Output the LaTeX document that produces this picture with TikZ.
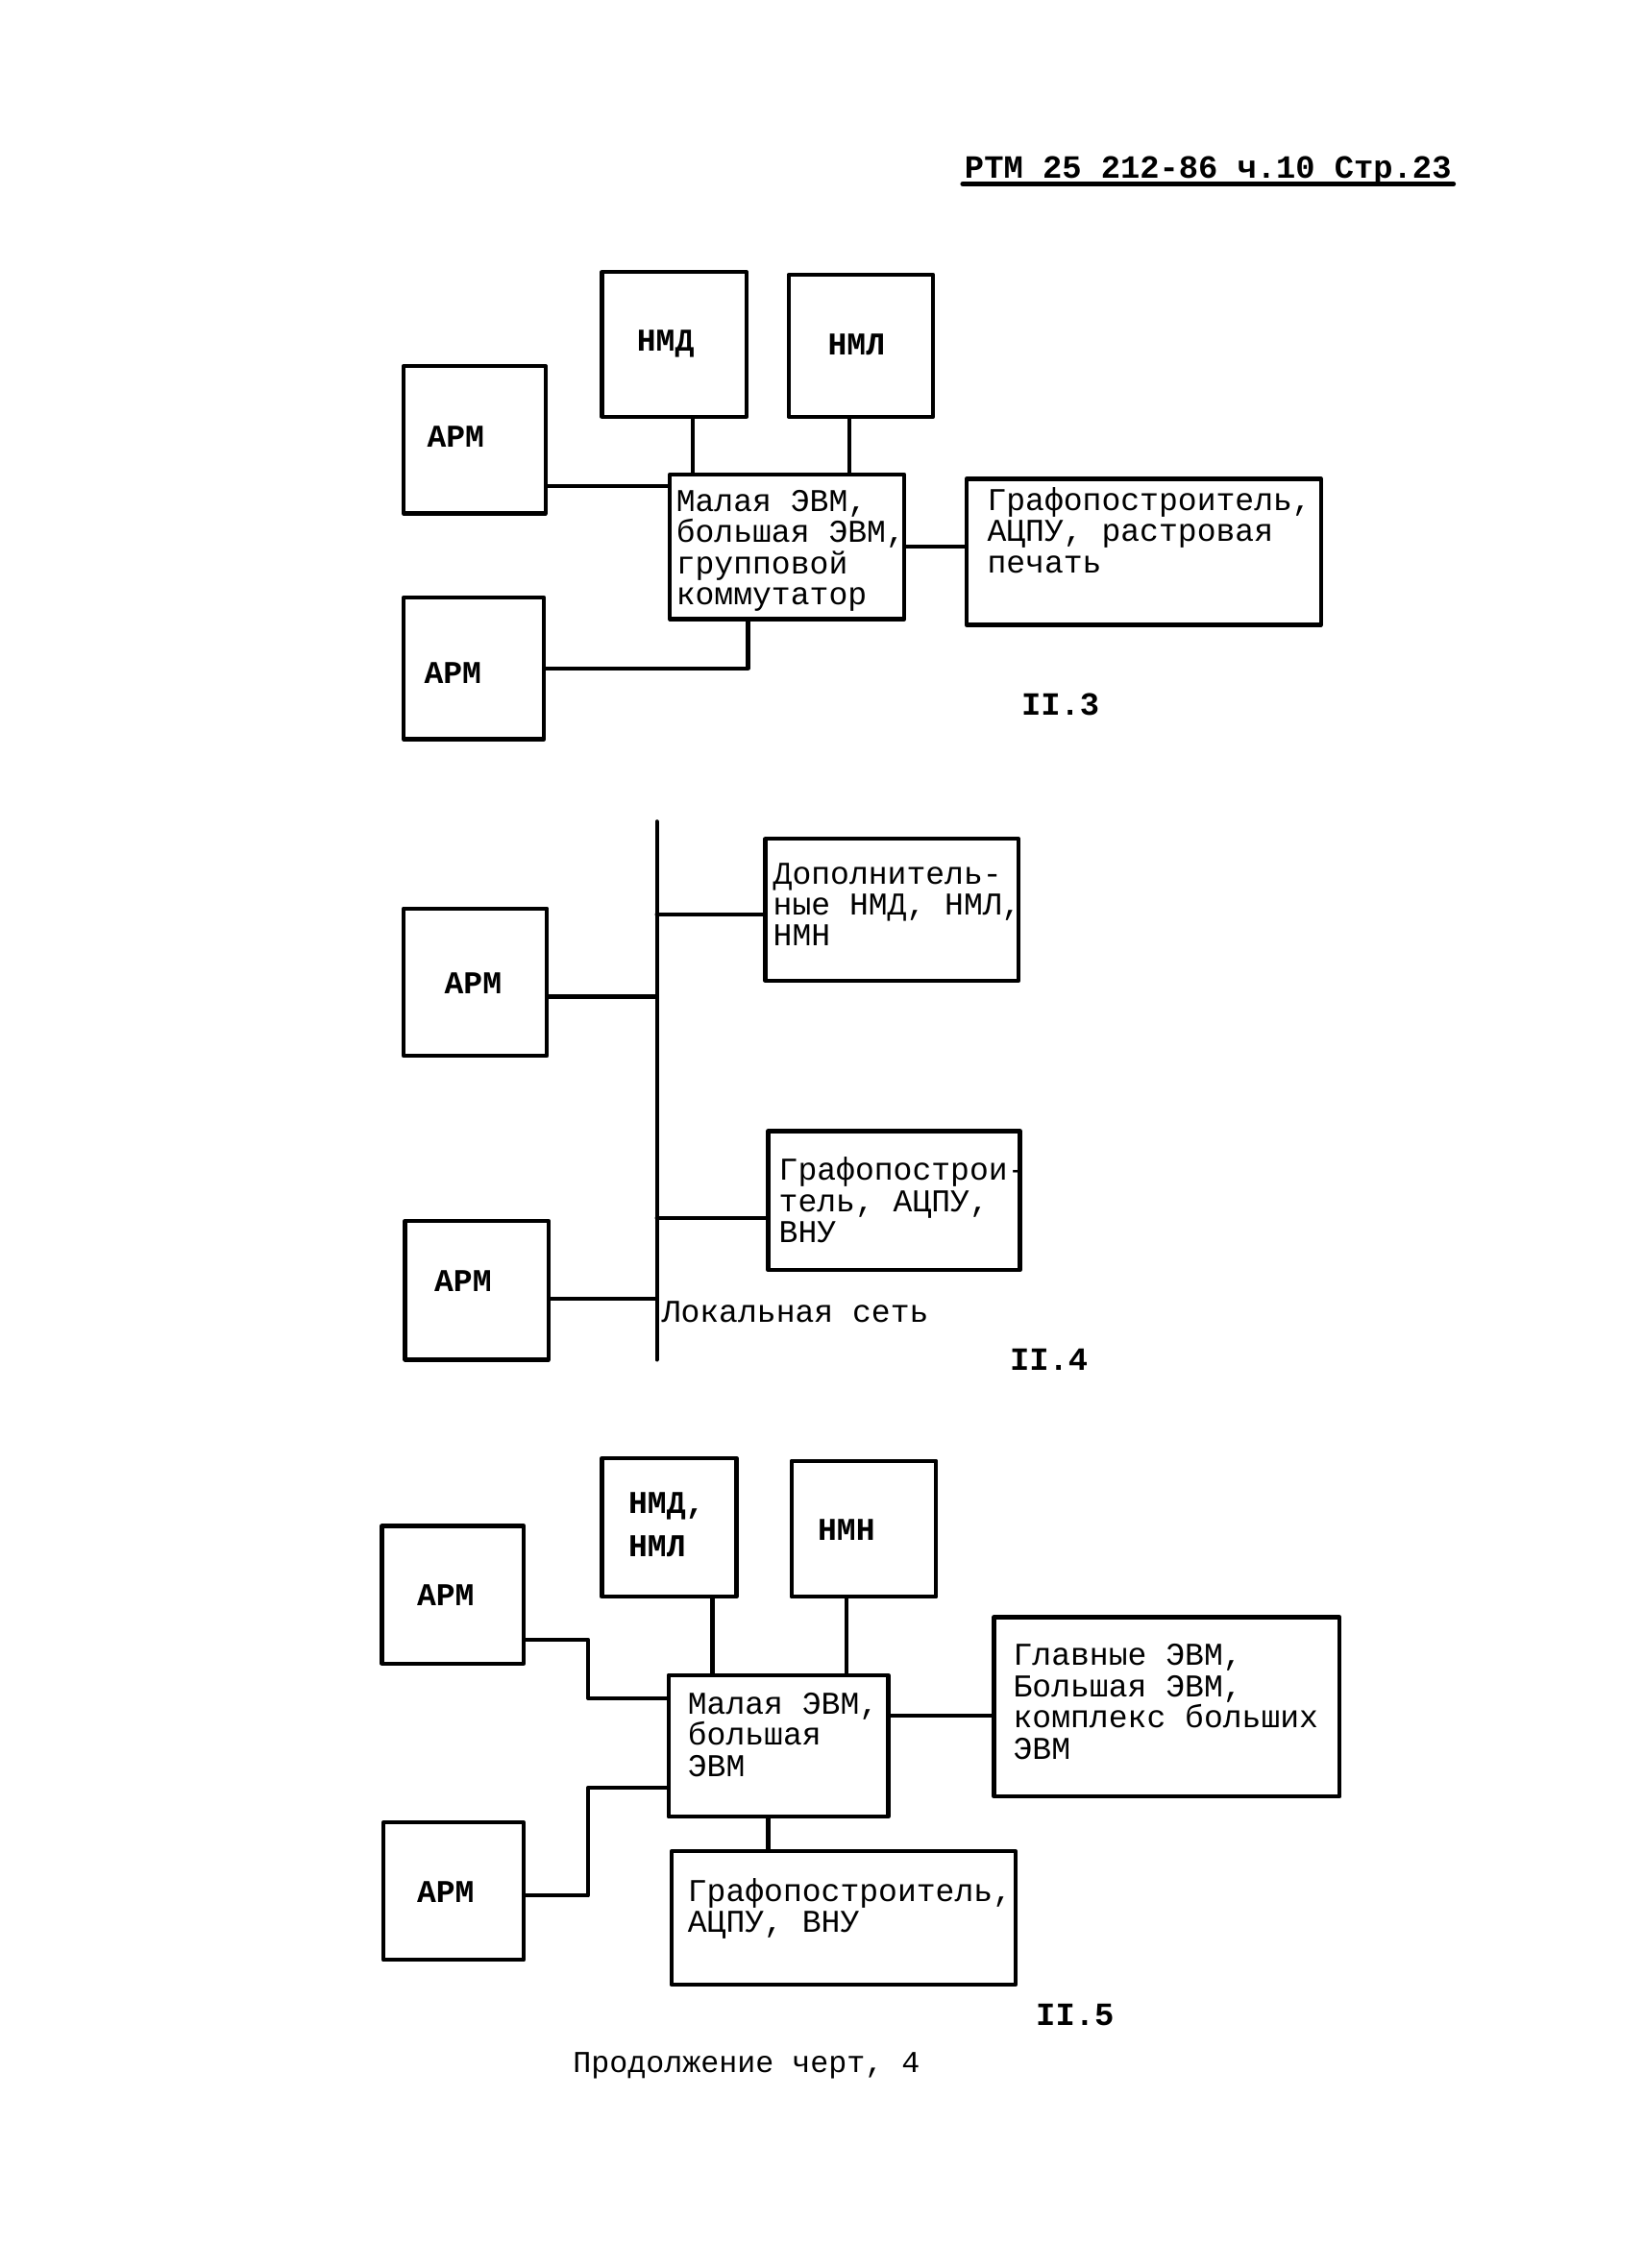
\documentclass[tikz,border=0pt]{standalone}
\usepackage{fontspec}
\setmainfont{Liberation Mono}
\usetikzlibrary{calc,positioning}

\begin{document}
\begin{tikzpicture}[line join=round, line cap=round, x=0.01505cm, y=-0.01505cm,
 font=\fontsize{9.4pt}{9.2pt}\selectfont, line width=1.2pt,
 box/.style={draw, line width=1.2pt, inner sep=0pt},
 wh/.style 2 args={minimum width=#1*\u, minimum height=#2*\u},
 txt/.style={inner sep=0pt, align=left, anchor=base west},
 lbl/.style={inner sep=0pt, font=\fontsize{9.4pt}{9.2pt}\selectfont\bfseries},
 num/.style={inner sep=0pt, font=\fontsize{9.6pt}{10pt}\selectfont\bfseries}]
 \def\u{0.01505cm}
 \useasboundingbox (0,0) rectangle (1136,1568);
 % Header
 \node[num, anchor=base] (hdr) at (835,123) {РТМ 25 212-86 ч.10 Стр.23};
 \draw[line width=1.4pt] ([yshift=-1.8pt]hdr.base west) coordinate (ul) -- (ul -| hdr.east);

 % II.3
 \node[box, wh={98}{102}] (apmA) at (328,304) {};
 \node[box, wh={97}{98}] (apmB) at (327.5,462) {};
 \node[box, wh={100}{100}] (nmdA) at (466,238) {};
 \node[box, wh={100}{98}] (nmlA) at (595,239) {};
 \node[box, wh={162}{100}] (mainA) at (544,378) {};
 \node[box, wh={245}{101}] (grA) at (790.5,381.5) {};
 \node[lbl] (apmAt) at (315,302) {АРМ};
 \node[lbl] (apmBt) at (313,465) {АРМ};
 \node[lbl] (nmdAt) at (460,238) {НМД};
 \node[lbl] (nmlAt) at (592,238) {НМЛ};
 \node[txt] (mainAt) at (466,418) {Малая ЭВМ,\\большая ЭВМ,\\групповой\\коммутатор};
 \node[txt] (grAt) at (681,396) {Графопостроитель,\\АЦПУ, растровая\\печать};
 \draw ([xshift=13*\u]nmdA.south) coordinate (p1) -- (p1 |- mainA.north);
 \draw ([xshift=-8*\u]nmlA.south) coordinate (p2) -- (p2 |- mainA.north);
 \draw ([yshift=-32*\u]apmA.east) coordinate (p3) -- (p3 -| mainA.west);
 \draw (apmB.east) -| ([xshift=-27*\u]mainA.south);
 \draw (mainA.east) -- (mainA.east -| grA.west);
 \node[num] (n3) at (733,487) {II.3};

 % II.4
 \coordinate (busT) at (454,568);
 \coordinate (busB) at (454,940);
 \draw (busT) -- (busB);
 \node[box, wh={99}{102}] (apmC) at (328.5,679) {};
 \node[box, wh={99}{96}] (apmD) at (329.5,892) {};
 \node[box, wh={175}{98}] (dop) at (616.5,629) {};
 \node[box, wh={174}{96}] (grB) at (618,830) {};
 \node[lbl] (apmCt) at (327,680) {АРМ};
 \node[lbl] (apmDt) at (320,886) {АРМ};
 \node[txt] (dopt) at (533,654) {Дополнитель-\\ные НМД, НМЛ,\\НМН};
 \node[txt] (grBt) at (537,859) {Графопострои-\\тель, АЦПУ,\\ВНУ};
 \node[txt] (net) at (456,914) {Локальная сеть};
 \draw ([yshift=-10*\u]apmC.east) coordinate (q1) -- (q1 -| busT);
 \draw ([yshift=-3*\u]dop.west) coordinate (q2) -- (q2 -| busT);
 \draw ([yshift=-12*\u]grB.west) coordinate (q3) -- (q3 -| busT);
 \draw ([yshift=-6*\u]apmD.east) coordinate (q4) -- (q4 -| busT);
 \node[num] (n4) at (725,940) {II.4};

 % II.5
 \node[box, wh={93}{96}] (nmdC) at (462.5,1056) {};
 \node[box, wh={100}{94}] (nmn) at (597,1057) {};
 \node[box, wh={98}{95}] (apmE) at (313,1102.5) {};
 \node[box, wh={97}{95}] (apmF) at (313.5,1307.5) {};
 \node[box, wh={152}{98}] (mainC) at (538,1207) {};
 \node[box, wh={239}{124}] (glav) at (806.5,1180) {};
 \node[box, wh={238}{92}] (grC) at (583,1326) {};
 \node[txt, font=\fontsize{9.4pt}{12.8pt}\selectfont\bfseries] (nmdCt) at (433,1076) {НМД,\\НМЛ};
 \node[lbl] (nmnt) at (585,1058) {НМН};
 \node[lbl] (apmEt) at (308,1103) {АРМ};
 \node[lbl] (apmFt) at (308,1308) {АРМ};
 \node[txt] (mainCt) at (474,1228) {Малая ЭВМ,\\большая\\ЭВМ};
 \node[txt] (glavt) at (699,1216) {Главные ЭВМ,\\Большая ЭВМ,\\комплекс больших\\ЭВМ};
 \node[txt] (grCt) at (474,1336) {Графопостроитель,\\АЦПУ, ВНУ};
 \draw ([xshift=30*\u]nmdC.south) coordinate (r1) -- (r1 |- mainC.north);
 \draw ([xshift=-12*\u]nmn.south) coordinate (r2) -- (r2 |- mainC.north);
 \draw ([yshift=-31*\u]apmE.east) -- ++(43,0) |- ([yshift=33*\u]mainC.west);
 \draw ([yshift=-3*\u]apmF.east) -- ++(43,0) |- ([yshift=-29*\u]mainC.west);
 \draw ([yshift=21*\u]mainC.east) coordinate (r3) -- (r3 -| glav.west);
 \draw ([xshift=-7*\u]mainC.south) coordinate (r4) -- (r4 |- grC.north);
 \node[num] (n5) at (743,1393) {II.5};

 % Footer
 \node[inner sep=0pt, font=\fontsize{9pt}{9pt}\selectfont] (foot) at (516,1428) {Продолжение черт, 4};
\end{tikzpicture}
\end{document}
